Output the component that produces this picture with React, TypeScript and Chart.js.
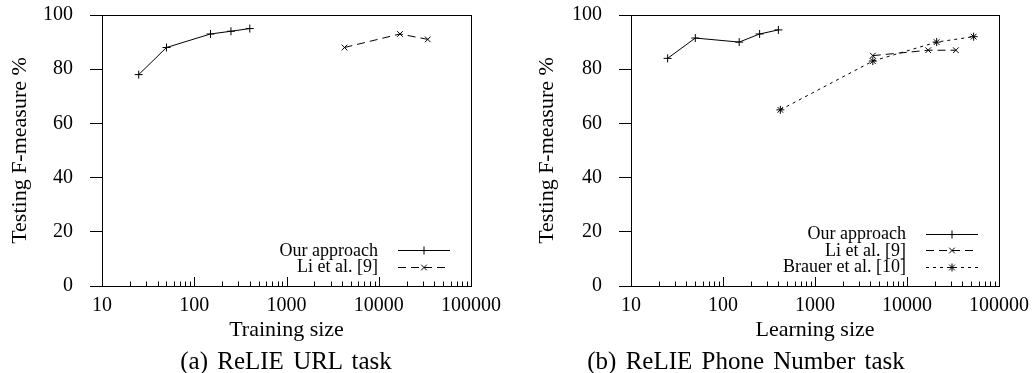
import React, { useEffect, useRef } from 'react';
import { Chart, registerables } from 'chart.js';

Chart.register(...registerables);

// ---- data ----
const trainingSizes = [25, 50, 150, 250, 400];
const urlOurApproach = [78, 88, 93, 94, 95];
const urlLiSizes = [4250, 17000, 34000];
const urlLi = [88, 93, 91];

const learningSizes = [25, 50, 150, 250, 400];
const phoneOurApproach = [84, 91.5, 90, 93, 94.5];
const phoneLiSizes = [4250, 17000, 34000];
const phoneLi = [85, 87, 87];
const brauerSizes = [420, 4250, 21000, 53000];
const phoneBrauer = [65, 83, 90, 92];

const xTickValues = [10, 100, 1000, 10000, 100000];
const yTickValues = [0, 20, 40, 60, 80, 100];
const seriesLabels = ['Our approach', 'Li et al. [9]', 'Brauer et al. [10]'];
const xTitles = ['Training size', 'Learning size'];
const yTitle = 'Testing F-measure %';
const captions = ['(a) ReLIE URL task', '(b) ReLIE Phone Number task'];

const FONT = "'Liberation Serif', 'Times New Roman', serif";

const seriesStyles = [
  { pointStyle: 'cross', pointRadius: 4, borderDash: [] as number[] },
  { pointStyle: 'crossRot', pointRadius: 4, borderDash: [8, 5] },
  { pointStyle: 'star', pointRadius: 4, borderDash: [3, 4] },
];

function pts(xs: number[], ys: number[]) {
  return xs.map((x, i) => ({ x, y: ys[i] }));
}

function makeDataset(idx: number, xs: number[], ys: number[]) {
  const s = seriesStyles[idx];
  return {
    label: seriesLabels[idx],
    data: pts(xs, ys),
    borderColor: '#000',
    backgroundColor: '#000',
    borderWidth: 1,
    borderDash: s.borderDash,
    pointStyle: s.pointStyle,
    pointRadius: s.pointRadius,
    pointHoverRadius: s.pointRadius,
    pointBorderColor: '#000',
    pointBorderWidth: 1,
    fill: false,
    tension: 0,
  };
}

function drawMarker(ctx: CanvasRenderingContext2D, style: string, x: number, y: number, r: number) {
  ctx.beginPath();
  if (style === 'cross' || style === 'star') {
    ctx.moveTo(x - r, y);
    ctx.lineTo(x + r, y);
    ctx.moveTo(x, y - r);
    ctx.lineTo(x, y + r);
  }
  if (style === 'crossRot' || style === 'star') {
    const o = r * Math.SQRT1_2;
    ctx.moveTo(x - o, y - o);
    ctx.lineTo(x + o, y + o);
    ctx.moveTo(x - o, y + o);
    ctx.lineTo(x + o, y - o);
  }
  ctx.stroke();
}

const framePlugin = {
  id: 'frameAndLegend',
  afterDatasetsDraw(chart: any) {
    const { ctx, chartArea: a } = chart;
    const xs = chart.scales.x;
    ctx.save();
    ctx.strokeStyle = '#000';
    ctx.lineWidth = 1;
    ctx.setLineDash([]);
    // inward log ticks on the x axis
    ctx.beginPath();
    const xmax = xTickValues[xTickValues.length - 1];
    for (let d = xTickValues[0]; d <= xmax; d *= 10) {
      for (let k = 1; k <= 9; k++) {
        const v = k * d;
        if (v > xmax) break;
        const px = Math.round(xs.getPixelForValue(v)) + 0.5;
        const len = k === 1 ? 9 : 4.5;
        ctx.moveTo(px, a.bottom);
        ctx.lineTo(px, a.bottom - len);
      }
    }
    ctx.stroke();
    // frame
    const l = Math.round(a.left) + 0.5;
    const t = Math.round(a.top) + 0.5;
    const r = Math.round(a.right) + 0.5;
    const b = Math.round(a.bottom) + 0.5;
    ctx.strokeRect(l, t, r - l, b - t);

    // legend (text left, sample right), bottom-right inside plot
    const ds = chart.data.datasets;
    const n = ds.length;
    ctx.font = `18px ${FONT}`;
    ctx.fillStyle = '#000';
    ctx.textAlign = 'right';
    ctx.textBaseline = 'middle';
    for (let i = 0; i < n; i++) {
      const y = a.bottom - 19.5 - (n - 1 - i) * 16.5;
      ctx.fillText(ds[i].label, a.right - 93, y + 1);
      ctx.setLineDash(ds[i].borderDash || []);
      ctx.beginPath();
      ctx.moveTo(a.right - 73, Math.round(y) + 0.5);
      ctx.lineTo(a.right - 21, Math.round(y) + 0.5);
      ctx.stroke();
      ctx.setLineDash([]);
      drawMarker(ctx, ds[i].pointStyle, a.right - 47, Math.round(y) + 0.5, ds[i].pointRadius);
    }
    ctx.restore();
  },
};

function makeConfig(datasets: any[], xTitle: string, yWidth: number, padRight: number) {
  return {
    type: 'line',
    data: { datasets },
    options: {
      animation: false,
      responsive: false,
      maintainAspectRatio: false,
      layout: { padding: { left: 0, top: 15, right: padRight, bottom: 0 } },
      plugins: {
        legend: { display: false },
        tooltip: { enabled: false },
        title: { display: false },
      },
      scales: {
        x: {
          type: 'logarithmic',
          min: xTickValues[0],
          max: xTickValues[xTickValues.length - 1],
          afterBuildTicks: (scale: any) => {
            scale.ticks = xTickValues.map((v) => ({ value: v, major: true }));
          },
          afterFit: (scale: any) => {
            scale.height = 87;
            scale.paddingLeft = 0;
            scale.paddingRight = 0;
          },
          ticks: {
            autoSkip: false,
            maxRotation: 0,
            minRotation: 0,
            padding: 8,
            color: '#000',
            font: { family: FONT, size: 20 },
            callback: (v: any) => String(v),
          },
          grid: { display: false, drawTicks: false },
          border: { display: false },
          title: {
            display: true,
            text: xTitle,
            color: '#000',
            font: { family: FONT, size: 22 },
            padding: { top: 0, bottom: 30 },
          },
        },
        y: {
          type: 'linear',
          min: yTickValues[0],
          max: yTickValues[yTickValues.length - 1],
          afterBuildTicks: (scale: any) => {
            scale.ticks = yTickValues.map((v) => ({ value: v }));
          },
          afterFit: (scale: any) => {
            scale.width = yWidth;
            scale.paddingTop = 0;
            scale.paddingBottom = 0;
          },
          ticks: {
            padding: 17,
            color: '#000',
            font: { family: FONT, size: 20 },
          },
          grid: {
            display: true,
            drawOnChartArea: false,
            drawTicks: true,
            tickLength: 12,
            tickColor: '#000',
            tickWidth: 1,
          },
          border: { display: false },
          title: {
            display: true,
            text: yTitle,
            color: '#000',
            font: { family: FONT, size: 22 },
            padding: { top: 7, bottom: 0 },
          },
        },
      },
    },
    plugins: [framePlugin],
  };
}

function Panel({ left, width, height, config }: { left: number; width: number; height: number; config: any }) {
  const ref = useRef<HTMLCanvasElement | null>(null);
  useEffect(() => {
    if (!ref.current) return;
    const chart = new Chart(ref.current, config);
    return () => chart.destroy();
  }, [config]);
  return (
    <canvas
      ref={ref}
      width={width}
      height={height}
      style={{ position: 'absolute', left, top: 0, width, height }}
    />
  );
}

const leftConfig = makeConfig(
  [makeDataset(0, trainingSizes, urlOurApproach), makeDataset(1, urlLiSizes, urlLi)],
  xTitles[0],
  102,
  34
);

const rightConfig = makeConfig(
  [
    makeDataset(0, learningSizes, phoneOurApproach),
    makeDataset(1, phoneLiSizes, phoneLi),
    makeDataset(2, brauerSizes, phoneBrauer),
  ],
  xTitles[1],
  104,
  36
);

const captionStyle: React.CSSProperties = {
  position: 'absolute',
  top: 348,
  width: 440,
  height: 25,
  lineHeight: '25px',
  fontFamily: FONT,
  fontSize: 25,
  wordSpacing: 3,
  textAlign: 'center',
  color: '#000',
  whiteSpace: 'nowrap',
};

export default function App() {
  return (
    <div style={{ position: 'absolute', left: 0, top: 0, width: 1035, height: 373, background: '#fff', overflow: 'hidden' }}>
      <Panel left={0} width={505} height={373} config={leftConfig} />
      <Panel left={527} width={508} height={373} config={rightConfig} />
      <div style={{ ...captionStyle, left: 286 - 220 }}>{captions[0]}</div>
      <div style={{ ...captionStyle, left: 746 - 220 }}>{captions[1]}</div>
    </div>
  );
}
